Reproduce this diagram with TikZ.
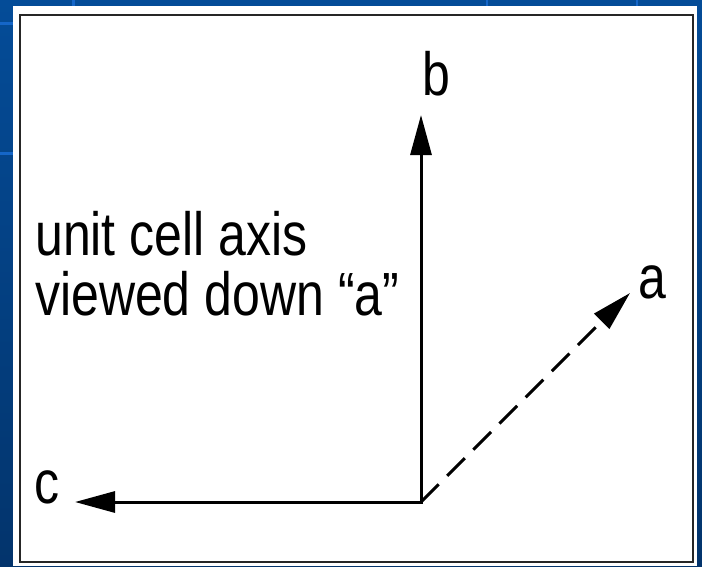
\documentclass[tikz,border=0pt]{standalone}
\usepackage{fontspec}
\setmainfont{Liberation Sans}
\usetikzlibrary{arrows.meta}
\definecolor{bluetop}{HTML}{044C98}
\definecolor{bluebot}{HTML}{03346C}
\definecolor{gridblue}{HTML}{1566C8}
\begin{document}
\begin{tikzpicture}[x=1pt,y=-1pt,
  axis/.style={line width=3pt,-{Triangle[length=40pt,width=21pt]}},
  lbl/.style={inner sep=0pt,anchor=base west,font=\fontsize{50}{60}\selectfont}]
\useasboundingbox (0,0) rectangle (702,566);
\shade[top color=bluetop,bottom color=bluebot] (0,0) rectangle (702,566);
\fill[gridblue] (0,22) rectangle (13,25);
\fill[gridblue] (0,152) rectangle (13,155);
\fill[gridblue] (72,0) rectangle (75,6);
\fill[gridblue] (486,0) rectangle (488,6);
\fill[gridblue] (636,0) rectangle (638,6);
\fill[white] (13,6) rectangle (697,566);
\draw[black!85,line width=2pt] (20,14.5) rectangle (693,562);
\coordinate (O) at (421,502);
\coordinate (B) at (421,115);
\coordinate (C) at (75,502);
\coordinate (A) at (630,293);
\draw[axis,line cap=rect] (O) -- (B);
\draw[axis,line cap=rect] (O) -- (C);
\draw[axis,dash pattern=on 25pt off 12pt] (O) -- (A);
\node[lbl] (lb) at (422,95) {\scalebox{1}[1.22]{b}};
\node[lbl] (la) at (638,298) {\scalebox{1}[1.22]{a}};
\node[lbl] (lc) at (34,503) {\scalebox{1}[1.22]{c}};
\node[lbl] (t1) at (35,255) {\scalebox{1}[1.22]{unit cell axis}};
\node[lbl] (t2) at (35,315) {\scalebox{1}[1.22]{viewed down “a”}};
\end{tikzpicture}
\end{document}
